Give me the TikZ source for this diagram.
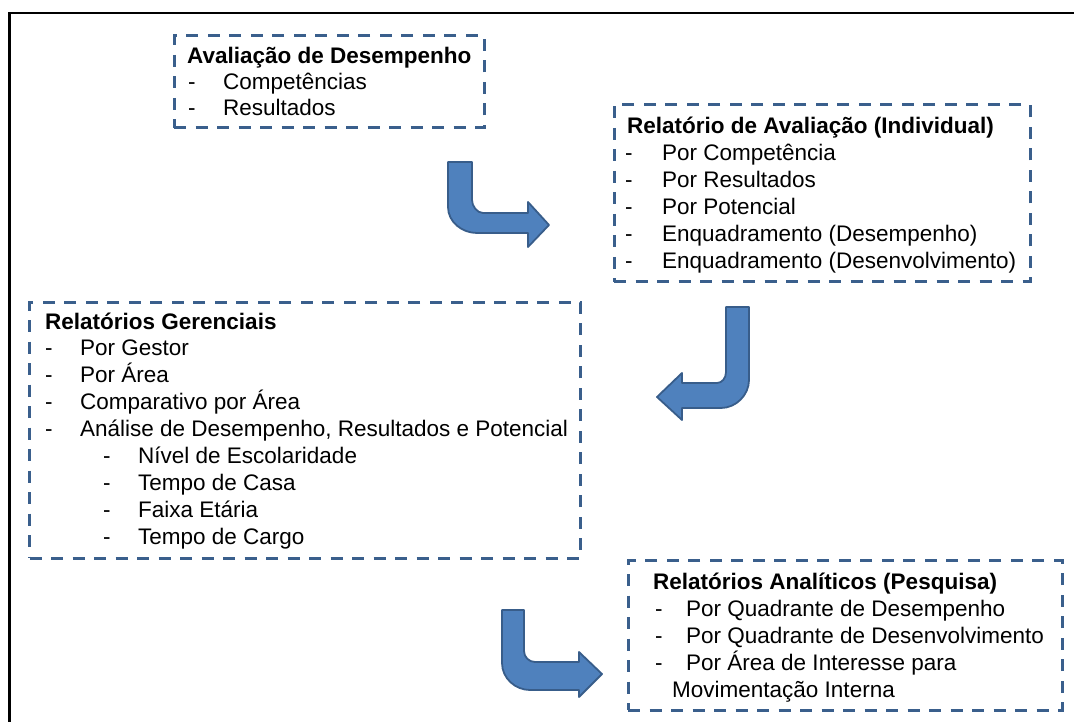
\documentclass[tikz,border=0pt]{standalone}
\usepackage{fontspec}
\setmainfont{Liberation Sans}
\definecolor{boxblue}{RGB}{58,95,140}
\definecolor{arrowfill}{RGB}{79,129,189}
\definecolor{arrowline}{RGB}{56,93,138}
\begin{document}
\begin{tikzpicture}[x=1pt,y=-1pt,
  frame/.style={draw=boxblue, line width=3pt, dash pattern=on 12pt off 9.5pt, inner sep=0pt},
  txt/.style={anchor=base west, inner sep=0pt, font=\fontsize{22.5}{27}\selectfont},
  ttl/.style={anchor=base west, inner sep=0pt, font=\fontsize{22.5}{27}\selectfont\bfseries},
  bent/.style={fill=arrowfill, draw=arrowline, line width=1.8pt, line join=round}]
\useasboundingbox (0,0) rectangle (1074,722);
% outer frame (top and left edges)
\draw[line width=2.5pt] (9.5,722) -- (9.5,12.8) -- (1074,12.8);

% boxes
\node[frame, minimum width=310pt, minimum height=92pt] (b1) at (329,82) {};
\node[frame, minimum width=416pt, minimum height=177pt] (b2) at (822,193.5) {};
\node[frame, minimum width=551pt, minimum height=256pt] (b3) at (305,430) {};
\node[frame, minimum width=434pt, minimum height=150pt] (b4) at (845,635) {};

% box 1
\node[ttl] (t1) at (187,64) {Avaliação de Desempenho};
\node[txt] (d11) at (188,90) {-};
\node[txt] (i11) at (223,90) {Competências};
\node[txt] (d12) at (188,116) {-};
\node[txt] (i12) at (223,116) {Resultados};

% box 2
\node[ttl] (t2) at (627,134) {Relatório de Avaliação (Individual)};
\node[txt] (d21) at (625,161) {-};
\node[txt] (i21) at (662,161) {Por Competência};
\node[txt] (d22) at (625,188) {-};
\node[txt] (i22) at (662,188) {Por Resultados};
\node[txt] (d23) at (625,215) {-};
\node[txt] (i23) at (662,215) {Por Potencial};
\node[txt] (d24) at (625,242) {-};
\node[txt] (i24) at (662,242) {Enquadramento (Desempenho)};
\node[txt] (d25) at (625,269) {-};
\node[txt] (i25) at (662,269) {Enquadramento (Desenvolvimento)};

% box 3
\node[ttl] (t3) at (45,329) {Relatórios Gerenciais};
\node[txt] (d31) at (45,355) {-};
\node[txt] (i31) at (80,355) {Por Gestor};
\node[txt] (d32) at (45,382) {-};
\node[txt] (i32) at (80,382) {Por Área};
\node[txt] (d33) at (45,409) {-};
\node[txt] (i33) at (80,409) {Comparativo por Área};
\node[txt] (d34) at (45,436) {-};
\node[txt] (i34) at (80,436) {Análise de Desempenho, Resultados e Potencial};
\node[txt] (d35) at (103,463) {-};
\node[txt] (i35) at (138,463) {Nível de Escolaridade};
\node[txt] (d36) at (103,490) {-};
\node[txt] (i36) at (138,490) {Tempo de Casa};
\node[txt] (d37) at (103,517) {-};
\node[txt] (i37) at (138,517) {Faixa Etária};
\node[txt] (d38) at (103,544) {-};
\node[txt] (i38) at (138,544) {Tempo de Cargo};

% box 4
\node[ttl] (t4) at (653,589) {Relatórios Analíticos (Pesquisa)};
\node[txt] (d41) at (655,616) {-};
\node[txt] (i41) at (686,616) {Por Quadrante de Desempenho};
\node[txt] (d42) at (655,643) {-};
\node[txt] (i42) at (686,643) {Por Quadrante de Desenvolvimento};
\node[txt] (d43) at (655,670) {-};
\node[txt] (i43) at (686,670) {Por Área de Interesse para};
\node[txt] (i44) at (672,697) {Movimentação Interna};

% bent arrows
\draw[bent] (448,162) -- (448,207) .. controls (448,222) and (462,233) .. (477,233)
  -- (528,233) -- (528,247) -- (549,225) -- (528,202) -- (528,213) -- (483,213)
  .. controls (477,213) and (472,206) .. (472,200) -- (472,162) -- cycle;
\draw[bent] (749,307) -- (749,380) .. controls (749,395) and (736,408) .. (721,408)
  -- (682,408) -- (682,420) -- (657,397) -- (682,373) -- (682,383) -- (717,383)
  .. controls (722,383) and (726,378) .. (726,372) -- (726,307) -- cycle;
\draw[bent] (502,610) -- (502,663) .. controls (502,678) and (515,690) .. (530,690)
  -- (579,690) -- (579,697) -- (602,674) -- (579,652) -- (579,662) -- (535,662)
  .. controls (529,662) and (524,657) .. (524,651) -- (524,610) -- cycle;
\end{tikzpicture}
\end{document}
